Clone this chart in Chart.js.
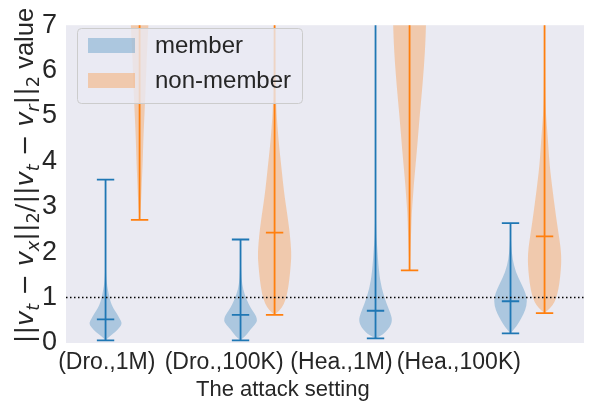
<!DOCTYPE html>
<html>
<head>
<meta charset="utf-8">
<script src="https://cdn.jsdelivr.net/npm/chart.js@4.4.1/dist/chart.umd.min.js"></script>
<style>
  html, body { margin: 0; padding: 0; background: #fff; }
  #wrap { width: 600px; height: 409px; }
</style>
</head>
<body>
<div id="wrap"><canvas id="violins"></canvas></div>
<script>
// attack settings on the x axis
var settings = ["(Dro.,1M)", "(Dro.,100K)", "(Hea.,1M)", "(Hea.,100K)"];
var tickPos = [1, 2, 3, 4];
var memberPos = [0.99, 2.14, 3.29, 4.44];
var nonMemberPos = [1.28, 2.43, 3.58, 4.73];

// extrema and medians (values above 7 are off the chart)
var memberMin = [0.06, 0.06, 0.1, 0.21];
var memberMax = [3.6, 2.28, 12, 2.64];
var memberMedian = [0.52, 0.62, 0.71, 0.92];
var nonMemberMin = [2.71, 0.62, 1.6, 0.66];
var nonMemberMax = [15, 12, 15, 12];
var nonMemberMedian = [9, 2.43, 8, 2.35];

// kernel density outlines: levels and relative width (1 = widest)
var memberLevels = [
  [0.06, 0.15, 0.25, 0.35, 0.43, 0.55, 0.65, 0.77, 0.9, 1.0, 1.15, 1.35, 1.6, 2.0, 2.6, 3.6],
  [0.06, 0.15, 0.28, 0.4, 0.49, 0.6, 0.72, 0.86, 1.07, 1.29, 1.6, 2.0, 2.28],
  [0.1, 0.17, 0.24, 0.35, 0.49, 0.65, 0.86, 1.2, 1.57, 2.15, 2.5, 3.5, 5, 7.5],
  [0.21, 0.34, 0.45, 0.56, 0.72, 0.92, 1.1, 1.29, 1.57, 1.85, 2.15, 2.4, 2.64]
];
var memberDensity = [
  [0, 0.24, 0.6, 0.85, 1, 0.82, 0.67, 0.45, 0.3, 0.24, 0.15, 0.06, 0.025, 0.01, 0.003, 0],
  [0, 0.3, 0.55, 0.85, 1, 0.92, 0.7, 0.48, 0.24, 0.09, 0.03, 0.01, 0],
  [0, 0.35, 0.6, 0.85, 1, 0.9, 0.66, 0.36, 0.2, 0.09, 0.03, 0.01, 0.005, 0.003],
  [0, 0.3, 0.5, 0.66, 0.88, 1, 0.9, 0.66, 0.3, 0.12, 0.04, 0.015, 0]
];
var nonMemberLevels = [
  [2.71, 2.9, 3.22, 3.6, 3.93, 4.3, 4.63, 5.36, 6.0, 6.43, 7.0, 8.0],
  [0.62, 0.71, 0.85, 1.07, 1.4, 1.7, 1.93, 2.2, 2.49, 2.85, 3.22, 3.6, 3.93, 4.3, 4.63, 5.2, 6.0, 7.0, 8.0],
  [1.6, 1.8, 2.15, 2.5, 2.86, 3.2, 3.57, 4.29, 5.0, 5.71, 6.43, 7.0, 7.5, 8.0],
  [0.66, 0.77, 0.9, 1.07, 1.3, 1.6, 1.85, 2.1, 2.49, 2.85, 3.22, 3.6, 3.93, 4.3, 4.63, 5.15, 6.0, 7.0, 8.0]
];
var nonMemberDensity = [
  [0, 0.05, 0.1, 0.14, 0.18, 0.21, 0.24, 0.33, 0.4, 0.44, 0.53, 0.6],
  [0, 0.3, 0.55, 0.75, 0.88, 0.96, 1, 0.96, 0.88, 0.75, 0.6, 0.48, 0.39, 0.28, 0.2, 0.09, 0.05, 0.03, 0.02],
  [0, 0.03, 0.06, 0.1, 0.13, 0.2, 0.27, 0.45, 0.6, 0.78, 0.92, 0.98, 1, 0.98],
  [0, 0.36, 0.6, 0.76, 0.88, 0.97, 1, 0.96, 0.8, 0.66, 0.53, 0.4, 0.3, 0.23, 0.17, 0.06, 0.03, 0.02, 0.01]
];

var threshold = 1;
var halfWidth = 0.143;
var capHalf = 0.074;
var xTitle = "The attack setting";

var textColor = "#262626";
var arial = "'Liberation Sans', Arial, sans-serif";
var series = [
  { label: "member", color: "#1f77b4", fill: "rgba(31,119,180,0.3)", pos: memberPos,
    min: memberMin, max: memberMax, median: memberMedian, levels: memberLevels, density: memberDensity },
  { label: "non-member", color: "#ff7f0e", fill: "rgba(255,127,14,0.3)", pos: nonMemberPos,
    min: nonMemberMin, max: nonMemberMax, median: nonMemberMedian, levels: nonMemberLevels, density: nonMemberDensity }
];

function drawViolin(ctx, xs, ys, pos, levels, dens) {
  var right = levels.map((v, i) => [xs.getPixelForValue(pos + dens[i] * halfWidth), ys.getPixelForValue(v)]);
  var left = levels.map((v, i) => [xs.getPixelForValue(pos - dens[i] * halfWidth), ys.getPixelForValue(v)]).reverse();
  var pts = right.concat(left);
  ctx.beginPath();
  ctx.moveTo(pts[0][0], pts[0][1]);
  for (var i = 1; i < pts.length - 1; i++) {
    var mx = (pts[i][0] + pts[i + 1][0]) / 2;
    var my = (pts[i][1] + pts[i + 1][1]) / 2;
    ctx.quadraticCurveTo(pts[i][0], pts[i][1], mx, my);
  }
  ctx.lineTo(pts[pts.length - 1][0], pts[pts.length - 1][1]);
  ctx.closePath();
  ctx.fill();
}

var violinPlugin = {
  id: "violins",
  beforeDatasetsDraw(chart) {
    var ctx = chart.ctx, area = chart.chartArea;
    var xs = chart.scales.x, ys = chart.scales.y;
    ctx.save();
    ctx.fillStyle = "#eaeaf2";
    ctx.fillRect(area.left, area.top, area.right - area.left, area.bottom - area.top);
    ctx.beginPath();
    ctx.rect(area.left, area.top, area.right - area.left, area.bottom - area.top);
    ctx.clip();
    series.forEach((s) => {
      s.pos.forEach((p, i) => {
        ctx.fillStyle = s.fill;
        drawViolin(ctx, xs, ys, p, s.levels[i], s.density[i]);
        ctx.strokeStyle = s.color;
        ctx.lineWidth = 1.8;
        var x = xs.getPixelForValue(p);
        ctx.beginPath();
        ctx.moveTo(x, ys.getPixelForValue(s.min[i]));
        ctx.lineTo(x, ys.getPixelForValue(s.max[i]));
        [s.min[i], s.max[i], s.median[i]].forEach((v) => {
          var y = ys.getPixelForValue(v);
          ctx.moveTo(xs.getPixelForValue(p - capHalf), y);
          ctx.lineTo(xs.getPixelForValue(p + capHalf), y);
        });
        ctx.stroke();
      });
    });
    // reference line
    var ty = ys.getPixelForValue(threshold);
    ctx.strokeStyle = "#000";
    ctx.lineWidth = 1.5;
    ctx.setLineDash([1.5, 2.5]);
    ctx.beginPath();
    ctx.moveTo(area.left, ty);
    ctx.lineTo(area.right, ty);
    ctx.stroke();
    ctx.restore();
  },
  afterDraw(chart) {
    var ctx = chart.ctx;
    // legend
    ctx.save();
    ctx.fillStyle = "rgba(234,234,242,0.8)";
    ctx.strokeStyle = "#cccccc";
    ctx.lineWidth = 1;
    ctx.beginPath();
    ctx.roundRect(77.5, 28.5, 225, 75, 4);
    ctx.fill();
    ctx.stroke();
    ctx.font = "24px " + arial;
    ctx.textBaseline = "middle";
    series.forEach((s, i) => {
      var y = 38 + i * 35;
      ctx.fillStyle = s.fill;
      ctx.fillRect(88, y, 47, 15);
      ctx.fillStyle = textColor;
      ctx.fillText(s.label, 155, y + 8);
    });

    // x axis title, centred under the tick labels
    var xs = chart.scales.x;
    ctx.font = "22px " + arial;
    ctx.textAlign = "center";
    ctx.textBaseline = "alphabetic";
    ctx.fillText(xTitle, (xs.getPixelForValue(tickPos[0]) + xs.getPixelForValue(tickPos[tickPos.length - 1])) / 2, 396);
    ctx.restore();

    // y axis title with sub-scripts
    var math = "'DejaVu Sans', sans-serif";
    var pieces = [
      ["||", "", 1, 0], ["v", "italic ", 1, 0], ["t", "italic ", 0.7, 1], [" \u2212 ", "", 1, 0],
      ["v", "italic ", 1, 0], ["x", "italic ", 0.7, 1], ["||", "", 1, 0], ["2", "", 0.7, 1],
      ["/||", "", 1, 0], ["v", "italic ", 1, 0], ["t", "italic ", 0.7, 1], [" \u2212 ", "", 1, 0],
      ["v", "italic ", 1, 0], ["r", "italic ", 0.7, 1], ["||", "", 1, 0], ["2", "", 0.7, 1],
      [" value", "arial", 1, 0]
    ];
    var size = 24;
    function fontOf(p) {
      var px = (p[2] * size).toFixed(1) + "px ";
      return p[1] === "arial" ? px + arial : p[1] + px + math;
    }
    function measure() {
      var t = 0;
      pieces.forEach((p) => { ctx.font = fontOf(p); t += ctx.measureText(p[0]).width; });
      return t;
    }
    ctx.save();
    size = size * 335 / measure();
    var total = measure();
    ctx.translate(33, 175.5);
    ctx.rotate(-Math.PI / 2);
    ctx.fillStyle = textColor;
    ctx.textBaseline = "alphabetic";
    var x = -total / 2;
    pieces.forEach((p) => {
      ctx.font = fontOf(p);
      ctx.fillText(p[0], x, p[3] * size * 0.22);
      x += ctx.measureText(p[0]).width;
    });
    ctx.restore();
  }
};

new Chart(document.getElementById("violins"), {
  type: "scatter",
  data: {
    datasets: series.map((s) => ({
      label: s.label,
      data: s.pos.map((p, i) => ({ x: p, y: s.median[i] })),
      pointRadius: 0,
      showLine: false,
    })),
  },
  options: {
    responsive: true,
    maintainAspectRatio: false,
    animation: false,
    layout: { padding: { top: 16, right: 16, left: 0, bottom: 0 } },
    plugins: {
      legend: { display: false },
      tooltip: { enabled: false },
    },
    scales: {
      x: {
        type: "linear",
        min: 0.653,
        max: 5.066,
        grid: { display: false, drawTicks: false },
        border: { display: false },
        afterFit: (s) => { s.height = 66; },
        afterBuildTicks: (s) => { s.ticks = tickPos.map((v) => ({ value: v })); },
        ticks: {
          autoSkip: false,
          maxRotation: 0,
          padding: 6,
          color: textColor,
          font: { family: arial, size: 23 },
          callback: (v) => settings[tickPos.indexOf(v)],
        },
      },
      y: {
        min: 0,
        max: 7,
        grid: { display: false, drawTicks: false },
        border: { display: false },
        afterFit: (s) => { s.width = 66; },
        ticks: {
          stepSize: 1,
          padding: 9,
          color: textColor,
          font: { family: arial, size: 27 },
        },
      },
    },
  },
  plugins: [violinPlugin],
});
</script>
</body>
</html>
